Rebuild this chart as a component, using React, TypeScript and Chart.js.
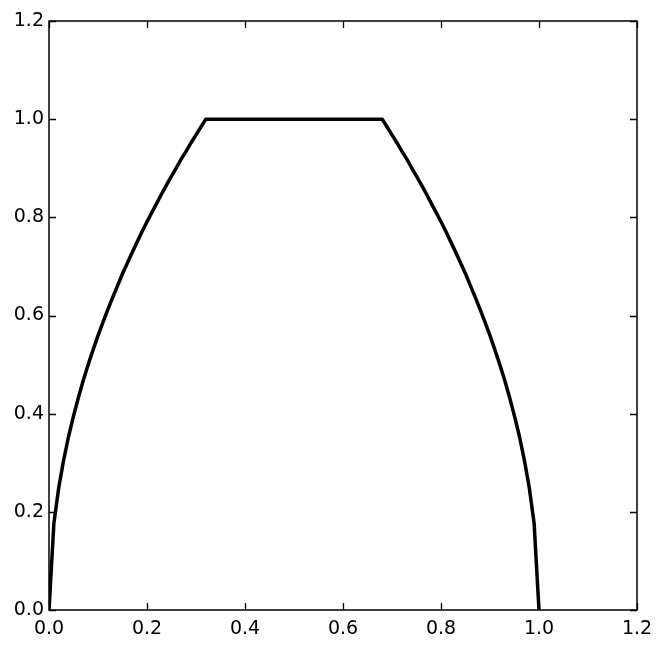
import React, { useEffect, useRef } from "react";
import { Chart, registerables } from "chart.js";

Chart.register(...registerables);

const xValues = [
  0, 0.01, 0.02, 0.03, 0.04, 0.05, 0.06, 0.07, 0.08, 0.09, 0.1, 0.11, 0.12, 0.13, 0.14, 0.15, 0.16,
  0.17, 0.18, 0.19, 0.2, 0.21, 0.22, 0.23, 0.24, 0.25, 0.26, 0.27, 0.28, 0.29, 0.3, 0.31, 0.32,
  0.68, 0.69, 0.7, 0.71, 0.72, 0.73, 0.74, 0.75, 0.76, 0.77, 0.78, 0.79, 0.8, 0.81, 0.82, 0.83,
  0.84, 0.85, 0.86, 0.87, 0.88, 0.89, 0.9, 0.91, 0.92, 0.93, 0.94, 0.95, 0.96, 0.97, 0.98, 0.99, 1.0,
];
const yValues = [
  0, 0.177, 0.25, 0.306, 0.354, 0.395, 0.433, 0.468, 0.5, 0.53, 0.559, 0.586, 0.612, 0.637, 0.661, 0.685, 0.707,
  0.729, 0.75, 0.771, 0.791, 0.81, 0.829, 0.848, 0.866, 0.884, 0.901, 0.919, 0.935, 0.952, 0.968, 0.984, 1.0,
  1.0, 0.984, 0.968, 0.952, 0.935, 0.919, 0.901, 0.884, 0.866, 0.848, 0.829, 0.81, 0.791, 0.771, 0.75, 0.729,
  0.707, 0.685, 0.661, 0.637, 0.612, 0.586, 0.559, 0.53, 0.5, 0.468, 0.433, 0.395, 0.354, 0.306, 0.25, 0.177, 0,
];
const tickValues = [0, 0.2, 0.4, 0.6, 0.8, 1.0, 1.2];

const FONT = { family: "'DejaVu Sans', sans-serif", size: 19 };

const framePlugin = {
  id: "frameTicks",
  afterDraw(chart: any) {
    const { ctx, chartArea } = chart;
    const { left, right, top, bottom } = chartArea;
    const xs = chart.scales.x;
    const ys = chart.scales.y;
    const tl = 7;
    ctx.save();
    ctx.strokeStyle = "#000";
    ctx.lineWidth = 1.3;
    ctx.beginPath();
    tickValues.forEach((v) => {
      const px = Math.round(xs.getPixelForValue(v)) + 0.5;
      ctx.moveTo(px, bottom);
      ctx.lineTo(px, bottom - tl);
      ctx.moveTo(px, top);
      ctx.lineTo(px, top + tl);
      const py = Math.round(ys.getPixelForValue(v)) + 0.5;
      ctx.moveTo(left, py);
      ctx.lineTo(left + tl, py);
      ctx.moveTo(right, py);
      ctx.lineTo(right - tl, py);
    });
    ctx.stroke();
    ctx.lineWidth = 1.5;
    ctx.strokeRect(left, top, right - left, bottom - top);
    ctx.restore();
  },
};

export default function App() {
  const ref = useRef<HTMLCanvasElement>(null);
  useEffect(() => {
    document.body.style.margin = "0";
    const data = xValues.map((x, i) => ({ x, y: yValues[i] }));
    const chart = new Chart(ref.current as HTMLCanvasElement, {
      type: "scatter",
      data: {
        datasets: [
          {
            data,
            showLine: true,
            borderColor: "#000",
            borderWidth: 3.5,
            borderJoinStyle: "round",
            borderCapStyle: "butt",
            pointRadius: 0,
            tension: 0,
            fill: false,
          },
        ],
      },
      options: {
        animation: false,
        responsive: false,
        devicePixelRatio: 1,
        layout: { padding: { top: 21, right: 27, left: 0, bottom: 0 } },
        plugins: { legend: { display: false }, tooltip: { enabled: false } },
        scales: {
          x: {
            type: "linear",
            min: 0,
            max: 1.2,
            afterFit: (s: any) => {
              s.height = 40;
            },
            afterBuildTicks: (s: any) => {
              s.ticks = tickValues.map((v) => ({ value: v }));
            },
            grid: { display: false, drawTicks: false },
            border: { display: false },
            ticks: {
              color: "#000",
              font: FONT,
              padding: 8,
              maxRotation: 0,
              autoSkip: false,
              callback: (v: any) => Number(v).toFixed(1),
            },
          },
          y: {
            type: "linear",
            min: 0,
            max: 1.2,
            afterFit: (s: any) => {
              s.width = 49;
            },
            afterBuildTicks: (s: any) => {
              s.ticks = tickValues.map((v) => ({ value: v }));
            },
            grid: { display: false, drawTicks: false },
            border: { display: false },
            ticks: {
              color: "#000",
              font: FONT,
              padding: 5,
              autoSkip: false,
              callback: (v: any) => Number(v).toFixed(1),
            },
          },
        },
      },
      plugins: [framePlugin],
    });
    return () => chart.destroy();
  }, []);
  return (
    <div style={{ width: 664, height: 650, background: "#fff" }}>
      <canvas ref={ref} width={664} height={650} style={{ display: "block" }} />
    </div>
  );
}
